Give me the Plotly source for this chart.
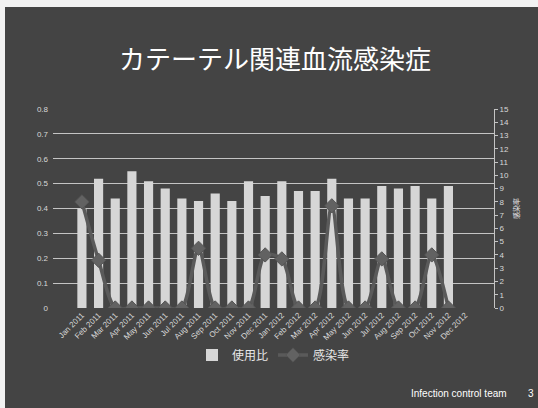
import plotly.graph_objects as go

months = ["Jan 2011", "Feb 2011", "Mar 2011", "Apr 2011", "May 2011", "Jun 2011",
          "Jul 2011", "Aug 2011", "Sep 2011", "Oct 2011", "Nov 2011", "Dec 2011",
          "Jan 2012", "Feb 2012", "Mar 2012", "Apr 2012", "May 2012", "Jun 2012",
          "Jul 2012", "Aug 2012", "Sep 2012", "Oct 2012", "Nov 2012", "Dec 2012"]
usage_ratio = [0.40, 0.52, 0.44, 0.55, 0.51, 0.48, 0.44, 0.43, 0.46, 0.43, 0.51, 0.45,
               0.51, 0.47, 0.47, 0.52, 0.44, 0.44, 0.49, 0.48, 0.49, 0.44, 0.49, None]
infection_rate = [8.0, 3.6, 0, 0, 0, 0, 0, 4.5, 0, 0, 0, 4.0,
                  3.7, 0, 0, 7.7, 0, 0, 3.7, 0, 0, 4.0, 0, None]
left_ticks = [0, 0.1, 0.2, 0.3, 0.4, 0.5, 0.6, 0.7, 0.8]
right_ticks = list(range(0, 16))

BG = "#444444"
TXT = "#d8d8d8"
JP = "Noto Sans CJK JP"
LAT = "Liberation Sans, Arial, sans-serif"

fig = go.Figure()
fig.add_trace(go.Bar(
    x=months, y=usage_ratio, name="使用比",
    marker=dict(color="#d6d6d6", line=dict(width=0)),
    yaxis="y",
))
fig.add_trace(go.Scatter(
    x=months, y=infection_rate, name="感染率", yaxis="y2",
    mode="lines+markers",
    line=dict(color="#5a5a5a", width=3.5, shape="spline", smoothing=0.8),
    marker=dict(symbol="diamond", size=11, color="#626262",
                line=dict(color="#555555", width=1)),
    connectgaps=False,
))

L, R, T, B = 53, 44, 109, 100
W, H = 538, 408
ph = H - T - B
pw = W - L - R

def px_x(p):
    return (p - L) / pw

def px_y(p):
    return (H - B - p) / ph

fig.update_layout(
    width=W, height=H,
    margin=dict(l=L, r=R, t=T, b=B),
    paper_bgcolor=BG, plot_bgcolor=BG,
    bargap=0.45,
    showlegend=True,
    legend=dict(orientation="h", x=0.5, xanchor="center", y=px_y(355), yanchor="middle",
                font=dict(family=JP, size=12, color="#e8e8e8"),
                bgcolor="rgba(0,0,0,0)", itemwidth=30, tracegroupgap=0),
    title=dict(text="カテーテル関連血流感染症", x=275 / W, xanchor="center",
               y=1 - 60 / H, yanchor="middle", xref="container", yref="container",
               font=dict(family=JP, size=26, color="#ffffff")),
    xaxis=dict(type="category", categoryorder="array", categoryarray=months,
               tickangle=-45, tickfont=dict(family=LAT, size=8, color=TXT),
               showgrid=False, zeroline=False, showline=False, ticks=""),
    yaxis=dict(range=[0, 0.8], tickvals=left_ticks,
               ticktext=["0", "0.1", "0.2", "0.3", "0.4", "0.5", "0.6", "0.7", "0.8"],
               tickfont=dict(family=LAT, size=8, color=TXT),
               showgrid=True, gridcolor="#c4c4c4", gridwidth=1,
               zeroline=False, showline=False, ticks="", ticklabelstandoff=4),
    yaxis2=dict(range=[0, 15], tickvals=right_ticks, overlaying="y", side="right",
                tickfont=dict(family=LAT, size=8, color=TXT),
                showgrid=False, zeroline=False, showline=True, linecolor="#c4c4c4",
                linewidth=1, ticks="outside", ticklen=3, tickcolor="#c4c4c4",
                title=dict(text="感染率", font=dict(family=JP, size=7, color="#e8e8e8"),
                           standoff=6)),
    annotations=[
        dict(text="Infection control team", x=px_x(459), y=px_y(393), xref="paper",
             yref="paper", showarrow=False, xanchor="center", yanchor="middle",
             font=dict(family=LAT, size=10, color="#ffffff")),
        dict(text="3", x=px_x(531), y=px_y(393), xref="paper", yref="paper",
             showarrow=False, xanchor="center", yanchor="middle",
             font=dict(family=LAT, size=10, color="#ffffff")),
    ],
    shapes=[
        dict(type="rect", xref="paper", yref="paper", x0=px_x(0), x1=px_x(W),
             y0=px_y(7), y1=px_y(0), fillcolor="#f2f2f2", line=dict(width=0), layer="below"),
        dict(type="rect", xref="paper", yref="paper", x0=px_x(0), x1=px_x(5),
             y0=px_y(H), y1=px_y(0), fillcolor="#f2f2f2", line=dict(width=0), layer="below"),
    ],
)

fig.write_html("out.html")
